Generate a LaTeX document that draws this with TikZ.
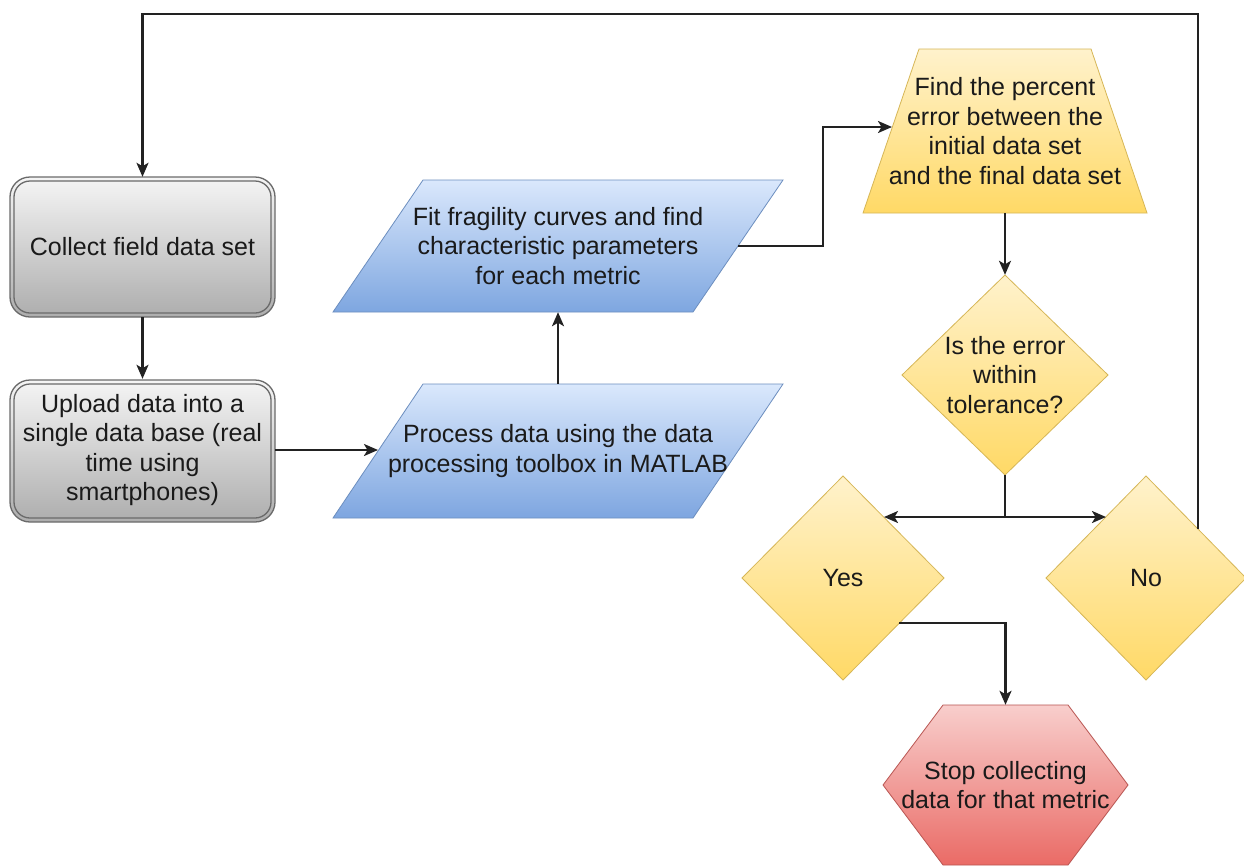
\documentclass[tikz,border=0pt]{standalone}
\usepackage{fontspec}
\setmainfont{Liberation Sans}
\usetikzlibrary{arrows.meta,calc}

\definecolor{ink}{HTML}{1A1A1A}
\definecolor{wire}{HTML}{222222}
\definecolor{grayTop}{HTML}{F5F5F5}
\definecolor{grayBot}{HTML}{ADADAD}
\definecolor{grayLine}{HTML}{6A6A6A}
\definecolor{blueTop}{HTML}{DAE8FC}
\definecolor{blueBot}{HTML}{7EA6E0}
\definecolor{blueLine}{HTML}{6C8EBF}
\definecolor{yelTop}{HTML}{FFF2CC}
\definecolor{yelBot}{HTML}{FFD966}
\definecolor{yelLine}{HTML}{D6B656}
\definecolor{redTop}{HTML}{F8CECC}
\definecolor{redBot}{HTML}{EA6B66}
\definecolor{redLine}{HTML}{B85450}

\begin{document}
\begin{tikzpicture}[x=1pt,y=-1pt,
  txt/.style={font=\fontsize{25}{29.5}\selectfont, text=ink, align=center, inner sep=0pt},
  grayshade/.style={top color=grayTop, bottom color=grayBot},
  grayedge/.style={draw=grayLine, line width=1.3pt},
  blueshape/.style={top color=blueTop, bottom color=blueBot, draw=blueLine, line width=0.8pt},
  yelshape/.style={top color=yelTop, bottom color=yelBot, draw=yelLine, line width=0.8pt},
  redshape/.style={top color=redTop, bottom color=redBot, draw=redLine, line width=0.8pt},
  wireline/.style={draw=wire, line width=2.2pt},
  arr/.style={wireline, -{Stealth[length=14pt,width=12pt,inset=3.5pt]}},
]
\fill[white] (0,0) rectangle (1244,865);
\useasboundingbox (0,0) rectangle (1244,865);

% ---- grey process boxes with double rounded border
\shade[grayshade, rounded corners=20pt] (10,177) rectangle (275,317);
\draw[grayedge, rounded corners=20pt] (10,177) rectangle (275,317);
\draw[grayedge, rounded corners=16pt] (14,181) rectangle (271,313);
\node[txt, minimum width=265pt, minimum height=140pt] (collect) at (142.5,247) {Collect field data set};

\shade[grayshade, rounded corners=20pt] (10,380) rectangle (275,522);
\draw[grayedge, rounded corners=20pt] (10,380) rectangle (275,522);
\draw[grayedge, rounded corners=16pt] (14,384) rectangle (271,518);
\node[txt, minimum width=265pt, minimum height=142pt] (upload) at (142.5,450)
  {Upload data into a\\single data base (real\\time using\\smartphones)};

% ---- blue data parallelograms
\path[blueshape] (333,312) -- (693,312) -- (783,180) -- (423,180) -- cycle;
\node[txt, minimum width=450pt, minimum height=132pt] (fit) at (558,246)
  {Fit fragility curves and find\\characteristic parameters\\for each metric};
\coordinate (fit-r) at (738,246);

\path[blueshape] (333,518) -- (693,518) -- (783,384) -- (423,384) -- cycle;
\node[txt, minimum width=450pt, minimum height=134pt] (proc) at (558,451)
  {Process data using the data\\processing toolbox in MATLAB};
\coordinate (proc-l) at (378,450);

% ---- yellow trapezoid
\path[yelshape] (863,213) -- (1147,213) -- (1091,49) -- (919,49) -- cycle;
\node[txt, minimum width=284pt, minimum height=164pt] (find) at (1005,131)
  {Find the percent\\error between the\\initial data set\\and the final data set};
\coordinate (find-l) at (892,127);

% ---- decision diamonds
\path[yelshape] (1005,275) -- (1108,375) -- (1005,475) -- (902,375) -- cycle;
\node[txt, minimum width=206pt, minimum height=200pt] (check) at (1005,375)
  {Is the error\\within\\tolerance?};

\path[yelshape] (843,476) -- (944,578) -- (843,680) -- (742,578) -- cycle;
\node[txt, minimum width=202pt, minimum height=204pt] (yes) at (843,578) {Yes};
\coordinate (yes-ne) at (884,517);
\coordinate (yes-se) at (899,623);

\path[yelshape] (1146,476) -- (1246,578) -- (1146,680) -- (1046,578) -- cycle;
\node[txt, minimum width=200pt, minimum height=204pt] (no) at (1146,578) {No};
\coordinate (no-nw) at (1106,517);
\coordinate (no-ne) at (1198,529);

% ---- red terminal hexagon
\path[redshape] (943,705) -- (1068,705) -- (1128,785) -- (1068,865) -- (943,865) -- (883,785) -- cycle;
\node[txt, minimum width=245pt, minimum height=160pt] (stop) at (1005.5,785)
  {Stop collecting\\data for that metric};

% ---- connectors
\draw[arr] (collect.south) -- (upload.north);
\draw[arr] (upload.east) -- (proc-l);
\draw[arr] (proc.north) -- (fit.south);
\draw[arr] (fit-r) -- ++(85,0) |- (find-l);
\draw[arr] (find.south) -- (check.north);
\draw[arr] (check.south) |- (yes-ne);
\draw[arr] (check.south) |- (no-nw);
\draw[arr] (yes-se) -| (stop.north);
\draw[arr] (no-ne) -- (1198,14) -| (collect.north);
\end{tikzpicture}
\end{document}
